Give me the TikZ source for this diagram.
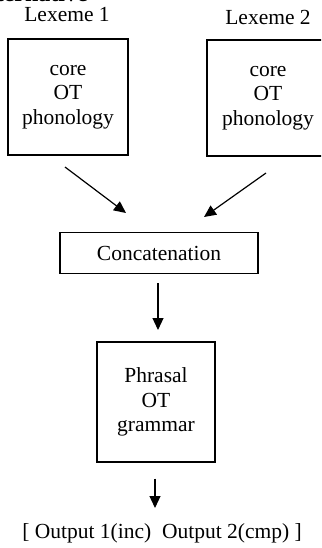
\documentclass[tikz,border=0pt]{standalone}
\usepackage{fontspec}
\setmainfont{Liberation Serif}
\usetikzlibrary{arrows.meta}
\begin{document}
\begin{tikzpicture}[x=1pt,y=-1pt,
  lbl/.style={font=\fontsize{21.5}{25}\selectfont, inner sep=0pt},
  box/.style={draw, line width=1.3pt, align=center, inner sep=0pt,
    font=\fontsize{21.5}{24.5}\selectfont},
  arr/.style={line width=1.2pt, -{Triangle[length=12pt,width=11pt]}}]
\useasboundingbox (0,0) rectangle (321,548);
\clip (0,0) rectangle (321,548);
\node[anchor=base east, inner sep=0pt, font=\fontsize{24}{28}\bfseries] (title) at (88,1.5) {Alternative};
\node[lbl] (lx1) at (67,15) {Lexeme 1};
\node[lbl] (lx2) at (268,17) {Lexeme 2};
\node[box, minimum width=120pt, minimum height=116pt] (b1) at (68,97) {core\\OT\\phonology};
\node[box, minimum width=122pt, minimum height=116pt] (b2) at (268,98) {core\\OT\\phonology};
\node[box, minimum width=198pt, minimum height=41pt] (cc) at (159,253) {Concatenation};
\node[box, minimum width=118pt, minimum height=120pt] (ph) at (156,402) {Phrasal\\OT\\grammar};
\node[lbl] (out) at (162,533) {[ Output 1(inc)\ \ Output 2(cmp) ]};
\coordinate (a1s) at (65,167); \coordinate (a1e) at (126,213);
\coordinate (a2s) at (266,173); \coordinate (a2e) at (204,217);
\draw[arr] (a1s) -- (a1e);
\draw[arr] (a2s) -- (a2e);
\draw[arr] (cc.south -| 158,0) ++(0,9) -- (158,330);
\draw[arr] (ph.south -| 155,0) ++(0,16) -- (155,508);
\end{tikzpicture}
\end{document}
